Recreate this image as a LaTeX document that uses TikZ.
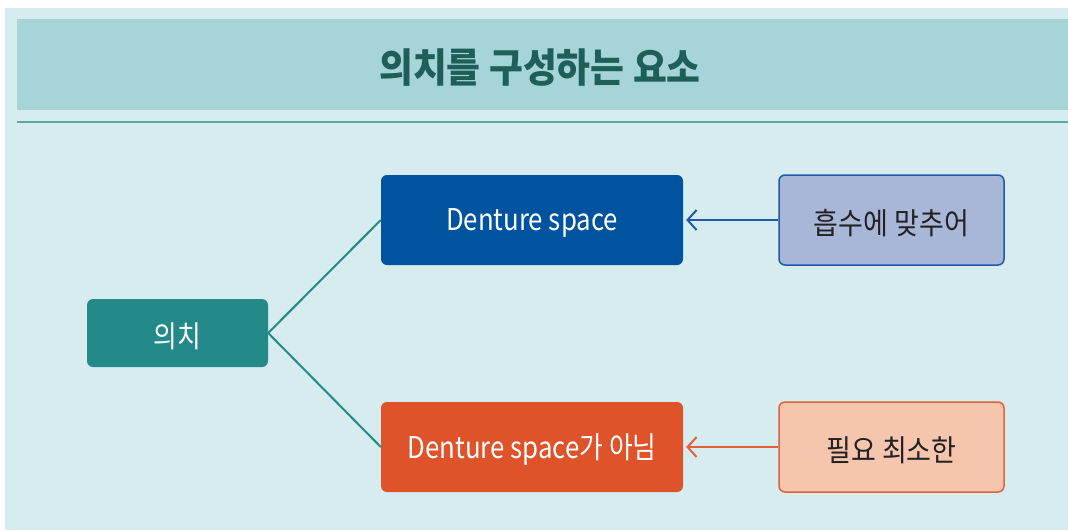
\documentclass[tikz,border=0pt]{standalone}
\usepackage{fontspec}
\setmainfont{Noto Sans CJK KR}
\usetikzlibrary{arrows.meta}
\definecolor{panelbg}{HTML}{D6ECEE}
\definecolor{bandbg}{HTML}{A5D5D9}
\definecolor{titletxt}{HTML}{1E5F5A}
\definecolor{ruleline}{HTML}{5AA9A8}
\definecolor{tealbox}{HTML}{238A89}
\definecolor{bluebox}{HTML}{00539F}
\definecolor{lblue}{HTML}{A8B6D8}
\definecolor{lblueedge}{HTML}{1E5AA8}
\definecolor{orangebox}{HTML}{DF532A}
\definecolor{peach}{HTML}{F6C5AE}
\definecolor{peachedge}{HTML}{E2603A}
\definecolor{darktxt}{HTML}{222222}
\newcommand{\cond}[1]{\raisebox{-3pt}[\height][\depth]{\scalebox{0.86}[1]{#1}}}
\newcommand{\condk}[1]{\raisebox{-3pt}[\height][\depth]{\scalebox{0.9}[1]{#1}}}
\tikzset{
  box/.style={rounded corners=6pt, inner sep=0pt, font=\fontsize{30}{34}\selectfont},
  conn/.style={draw=tealbox, line width=2pt},
  arr/.style={line width=2pt, -{Straight Barb[length=9pt,width=20pt,line width=2pt]}}
}
\begin{document}
\begin{tikzpicture}[x=1pt,y=-1pt]
\useasboundingbox (0,0) rectangle (1068,530);
\fill[white] (0,0) rectangle (1068,530);
\fill[panelbg] (5,8) rectangle (1068,530);
\fill[bandbg] (17,19) rectangle (1068,110);
\draw[ruleline, line width=2pt] (17,121.5) -- (1068,121.5);
\node[font=\fontsize{40}{44}\selectfont\bfseries, text=titletxt] (title) at (540,68) {\scalebox{0.92}[1]{의치를 구성하는 요소}};

\node[box, fill=tealbox, minimum width=181pt, minimum height=68pt, text=white] (uichi) at (177.5,333) {\cond{의치}};
\node[box, fill=bluebox, minimum width=302pt, minimum height=90pt, text=white] (ds) at (532,220) {\cond{Denture space}};
\node[box, fill=orangebox, minimum width=302pt, minimum height=90pt, text=white] (nds) at (532,447) {\cond{Denture space가 아님}};
\node[box, fill=lblue, draw=lblueedge, line width=1.5pt, minimum width=225pt, minimum height=90pt, text=darktxt] (absorb) at (891.5,220) {\condk{흡수에 맞추어}};
\node[box, fill=peach, draw=peachedge, line width=1.5pt, minimum width=225pt, minimum height=90pt, text=darktxt] (minimum) at (891.5,447) {\condk{필요 최소한}};

\draw[conn] (uichi.east) -- (ds.west);
\draw[conn] (uichi.east) -- (nds.west);
\draw[arr, draw=lblueedge] (absorb.west) -- ([xshift=3pt]ds.east);
\draw[arr, draw=peachedge] (minimum.west) -- ([xshift=3pt]nds.east);
\end{tikzpicture}
\end{document}
